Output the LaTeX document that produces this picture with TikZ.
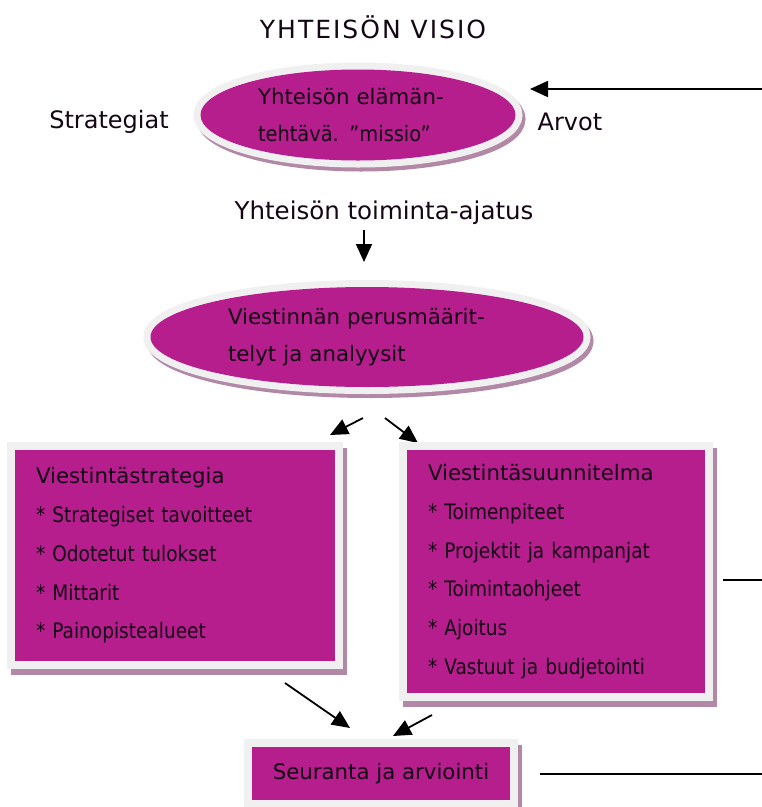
\documentclass[tikz,border=0pt]{standalone}
\usepackage{fontspec}
\setmainfont{DejaVu Sans}
\newfontfamily\narrowfont[FakeStretch=0.87]{DejaVu Sans}
\newfontfamily\semifont[FakeStretch=0.91]{DejaVu Sans}
\usetikzlibrary{arrows.meta,shapes.geometric}
\definecolor{mag}{RGB}{181,30,140}
\definecolor{rimc}{RGB}{240,240,240}
\definecolor{shadc}{RGB}{178,136,166}
\definecolor{ink}{RGB}{20,6,20}
\begin{document}
\begin{tikzpicture}[x=1pt,y=-1pt,
  innertext/.style={font=\fontsize{21.3}{37}\selectfont, text=ink},
  boxtext/.style={font=\fontsize{21.3}{38.75}\selectfont, text=ink},
  labeltext/.style={font=\fontsize{24}{28}\selectfont, text=ink, inner sep=0pt},
  ellshadow/.style={preaction={draw=shadc, fill=shadc, line width=14pt, transform canvas={shift={(3pt,-4pt)}}}},
  ellrim/.style={preaction={draw=rimc, line width=14pt}, fill=mag},
  boxshadow/.style={preaction={draw=shadc, fill=shadc, line width=16pt, transform canvas={shift={(4pt,-6pt)}}}},
  rim/.style={preaction={draw=rimc, line width=16pt}, fill=mag},
  ellnode/.style={ellipse, ellshadow, ellrim, inner sep=0pt, align=left, innertext},
  boxnode/.style={rectangle, boxshadow, rim, inner xsep=21pt, inner ysep=0pt, align=left, boxtext},
  arr/.style={line width=1.8pt, draw=black, -{Triangle[length=18pt,width=16pt]}},
  plainline/.style={line width=1.8pt, draw=black},
]
\useasboundingbox (0,0) rectangle (762,807);
\clip (0,0) rectangle (762,807);

% title
\node[labeltext, font=\fontsize{25}{28}\selectfont\addfontfeature{LetterSpace=8}] (title) at (373,27) {YHTEISÖN VISIO};

% top ellipse
\node[ellnode, minimum width=315pt, minimum height=91pt, text width=200pt] (mission) at (358,115)
  {Yhteisön elämän-\\{\semifont tehtävä. ”missio”}};
\node[labeltext] (strategiat) at (109,122) {Strategiat};
\node[labeltext] (arvot) at (570,122) {Arvot};
\coordinate (arvoIn) at (762,89);
\coordinate (arvoTip) at (530,89);
\draw[arr] (arvoIn) -- (arvoTip);

% toiminta-ajatus
\node[labeltext, font=\fontsize{24.5}{28}\selectfont] (toim) at (384,213) {Yhteisön toiminta-ajatus};
\coordinate (toimA) at (364,230);
\coordinate (toimB) at (364,262);
\draw[arr] (toimA) -- (toimB);

% middle ellipse
\node[ellnode, minimum width=433pt, minimum height=100pt, text width=278pt] (perus) at (367,337)
  {Viestinnän perusmäärit-\\telyt ja analyysit};

\coordinate (pL1) at (363,418);
\coordinate (pL2) at (330,435);
\coordinate (pR1) at (385,418);
\coordinate (pR2) at (418,443);
\draw[arr] (pL1) -- (pL2);
\draw[arr] (pR1) -- (pR2);

% left box
\node[boxnode, minimum width=320pt, minimum height=211pt, text width=278pt] (strat) at (175,555.5)
  {Viestintästrategia\\{\narrowfont * Strategiset tavoitteet}\\{\narrowfont * Odotetut tulokset}\\{\narrowfont * Mittarit}\\{\narrowfont * Painopistealueet}};

% right box
\node[boxnode, minimum width=298pt, minimum height=243pt, text width=256pt] (suunn) at (556,571.5)
  {Viestintäsuunnitelma\\{\narrowfont * Toimenpiteet}\\{\narrowfont * Projektit ja kampanjat}\\{\narrowfont * Toimintaohjeet}\\{\narrowfont * Ajoitus}\\{\narrowfont * Vastuut ja budjetointi}};

\coordinate (sL) at (723,580);
\coordinate (sR) at (762,580);
\draw[plainline] (sL) -- (sR);

% arrows to bottom
\coordinate (bA1) at (285,683);
\coordinate (bA2) at (350,728);
\coordinate (bB1) at (432,715);
\coordinate (bB2) at (393,736);
\draw[arr] (bA1) -- (bA2);
\draw[arr] (bB1) -- (bB2);

% bottom box
\node[rectangle, boxshadow, rim, minimum width=258pt, minimum height=53pt, inner sep=0pt, innertext] (seur) at (381,773.5)
  {Seuranta ja arviointi};
\coordinate (eL) at (540,774);
\coordinate (eR) at (762,774);
\draw[plainline] (eL) -- (eR);
\end{tikzpicture}
\end{document}
